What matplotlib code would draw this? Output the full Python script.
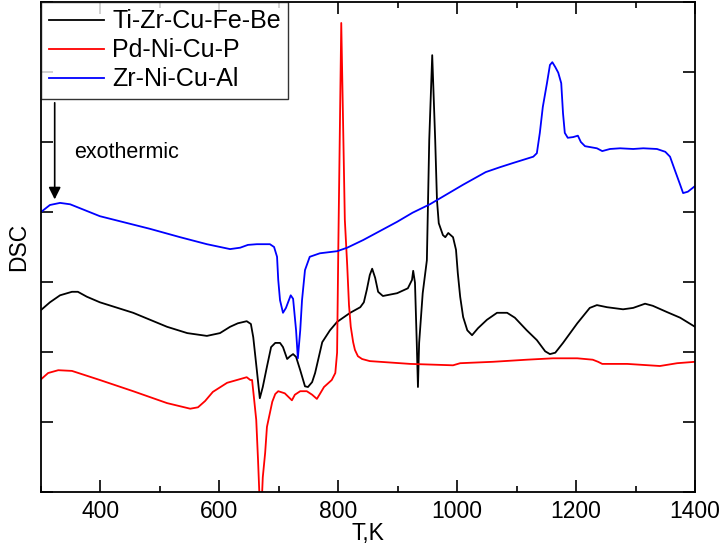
import numpy as np
import matplotlib
matplotlib.use('Agg')
import matplotlib.pyplot as plt
from matplotlib.ticker import MultipleLocator

plt.rcParams['font.family'] = ['Liberation Sans', 'DejaVu Sans']

# Ti-Zr-Cu-Fe-Be (black)
t_black = [300, 315, 332, 352, 362, 377, 399, 455, 512, 546, 579, 601, 618, 631, 646, 653,
           657, 663, 668, 673, 680, 687, 694, 702, 707, 714, 719, 724, 729, 736, 744, 749,
           756, 761, 773, 786, 798, 820, 837, 843, 848, 853, 857, 862, 867, 875, 899, 917,
           924, 926, 929, 932, 934, 936, 942, 949, 953, 958, 963, 966, 969, 976, 980, 985,
           993, 998, 1001, 1005, 1010, 1017, 1025, 1035, 1050, 1067, 1084, 1097, 1117,
           1134, 1148, 1156, 1165, 1178, 1202, 1223, 1235, 1252, 1279, 1296, 1316, 1329,
           1353, 1375, 1400]
dsc_black = [2.60, 2.71, 2.81, 2.86, 2.86, 2.79, 2.71, 2.56, 2.36, 2.27, 2.23, 2.27, 2.36,
             2.41, 2.44, 2.40, 2.21, 1.74, 1.34, 1.50, 1.79, 2.07, 2.13, 2.13, 2.07, 1.90,
             1.94, 1.97, 1.93, 1.74, 1.51, 1.50, 1.57, 1.70, 2.14, 2.31, 2.43, 2.56, 2.64,
             2.71, 2.89, 3.10, 3.19, 3.06, 2.86, 2.80, 2.84, 2.91, 3.03, 3.16, 2.99, 2.13,
             1.50, 2.13, 2.84, 3.31, 5.03, 6.24, 5.03, 4.17, 3.84, 3.67, 3.64, 3.70, 3.64,
             3.46, 3.13, 2.79, 2.50, 2.31, 2.24, 2.34, 2.46, 2.56, 2.56, 2.49, 2.31, 2.17,
             2.01, 1.97, 1.99, 2.13, 2.41, 2.63, 2.67, 2.64, 2.61, 2.63, 2.69, 2.66, 2.57,
             2.49, 2.36]

# Pd-Ni-Cu-P (red)
t_red = [300, 312, 329, 352, 399, 455, 512, 551, 564, 576, 589, 613, 646, 652, 655, 658,
         662, 665, 667, 670, 673, 677, 680, 689, 694, 699, 710, 722, 727, 736, 747, 756,
         764, 769, 776, 789, 795, 798, 800, 805, 808, 811, 815, 818, 821, 825, 828, 833,
         840, 853, 921, 993, 1005, 1060, 1117, 1161, 1202, 1228, 1237, 1244, 1286, 1341,
         1370, 1400]
dsc_red = [1.61, 1.70, 1.74, 1.73, 1.60, 1.44, 1.27, 1.19, 1.21, 1.30, 1.43, 1.56, 1.64,
           1.60, 1.60, 1.36, 1.03, 0.46, 0.03, -0.40, 0.21, 0.56, 0.93, 1.29, 1.40, 1.44,
           1.41, 1.31, 1.39, 1.44, 1.44, 1.39, 1.33, 1.40, 1.50, 1.60, 1.70, 1.99, 3.46,
           6.70, 5.31, 3.89, 3.24, 2.67, 2.36, 2.14, 2.03, 1.94, 1.90, 1.87, 1.83, 1.81,
           1.84, 1.86, 1.89, 1.91, 1.91, 1.89, 1.86, 1.83, 1.83, 1.80, 1.84, 1.86]

# Zr-Ni-Cu-Al (blue)
t_blue = [300, 315, 332, 349, 399, 483, 534, 579, 618, 635, 648, 663, 685, 692, 697, 699,
          702, 707, 712, 720, 724, 729, 732, 736, 739, 744, 752, 769, 798, 815, 842, 899,
          925, 954, 1010, 1048, 1072, 1094, 1128, 1134, 1139, 1144, 1151, 1156, 1160, 1165,
          1170, 1175, 1178, 1181, 1186, 1195, 1203, 1208, 1215, 1235, 1244, 1257, 1274,
          1296, 1313, 1336, 1350, 1358, 1366, 1375, 1380, 1388, 1400]
dsc_blue = [4.00, 4.10, 4.13, 4.11, 3.94, 3.76, 3.64, 3.54, 3.47, 3.49, 3.53, 3.54, 3.54,
            3.50, 3.36, 3.03, 2.74, 2.56, 2.63, 2.81, 2.76, 2.31, 1.91, 2.31, 2.74, 3.17,
            3.36, 3.41, 3.44, 3.49, 3.60, 3.86, 3.99, 4.11, 4.39, 4.57, 4.64, 4.70, 4.79,
            4.84, 5.13, 5.50, 5.84, 6.10, 6.14, 6.07, 5.99, 5.84, 5.41, 5.13, 5.06, 5.07,
            5.09, 5.00, 4.94, 4.91, 4.87, 4.90, 4.91, 4.90, 4.91, 4.90, 4.86, 4.79, 4.60,
            4.39, 4.27, 4.29, 4.37]

fig = plt.figure(figsize=(7.26, 5.49), dpi=100)
ax = fig.add_axes([0.0565, 0.1038, 0.9008, 0.8926])

ax.plot(t_black, dsc_black, color='black', lw=1.3, label='Ti-Zr-Cu-Fe-Be')
ax.plot(t_red, dsc_red, color='red', lw=1.3, label='Pd-Ni-Cu-P')
ax.plot(t_blue, dsc_blue, color='blue', lw=1.3, label='Zr-Ni-Cu-Al')

ax.set_xlim(300, 1400)
ax.set_ylim(0, 7)
ax.xaxis.set_major_locator(MultipleLocator(200))
ax.xaxis.set_minor_locator(MultipleLocator(100))
ax.yaxis.set_major_locator(MultipleLocator(1))
ax.tick_params(which='both', direction='in', top=True, right=True, width=1.2)
ax.tick_params(which='major', length=8.5)
ax.tick_params(which='minor', length=4.5)
ax.tick_params(axis='x', labelsize=16.5, pad=6)
ax.tick_params(axis='y', labelleft=False)
for s in ax.spines.values():
    s.set_linewidth(1.3)

ax.set_xlabel('T,K', fontsize=16.5, labelpad=-1)
ax.set_ylabel('DSC', fontsize=16.5, labelpad=8)

ax.annotate('', xy=(323, 4.18), xytext=(323, 5.56),
            arrowprops=dict(arrowstyle='-|>', color='black', lw=1.2,
                            mutation_scale=18, shrinkA=0, shrinkB=0))
ax.text(355, 4.85, 'exothermic', fontsize=15.5, va='center', ha='left')

leg = ax.legend(loc='upper left', fontsize=18, frameon=True, fancybox=False,
                borderaxespad=0, handlelength=2.2, handletextpad=0.35,
                labelspacing=0.2, borderpad=0.3)
leg.get_frame().set_edgecolor('black')
leg.get_frame().set_linewidth(1.0)

fig.savefig('out.png', dpi=100)
